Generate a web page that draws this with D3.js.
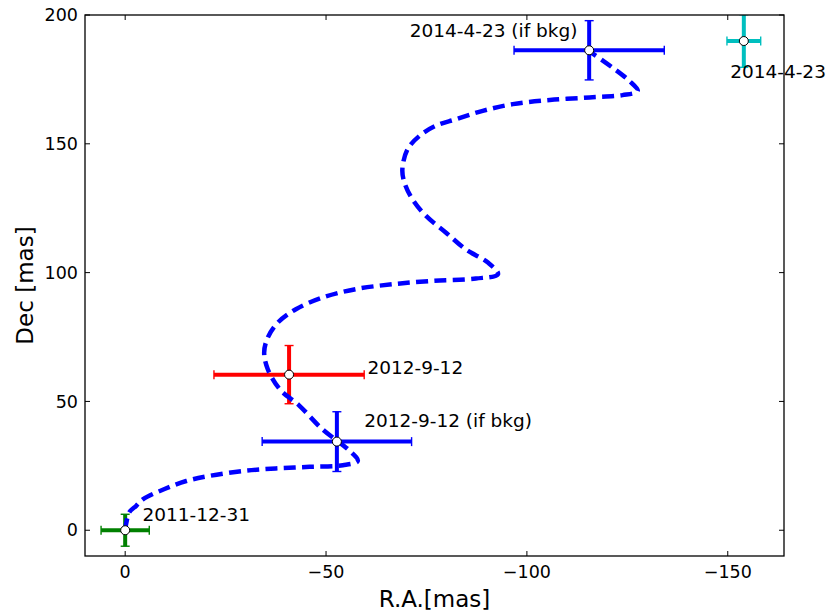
<!DOCTYPE html>
<html>
<head>
<meta charset="utf-8">
<script src="https://cdn.jsdelivr.net/npm/d3@7"></script>
<style>
  html, body { margin: 0; padding: 0; background: #fff; }
  svg { display: block; font-family: "DejaVu Sans", sans-serif; }
</style>
</head>
<body>
<svg id="chart" width="827" height="614"></svg>
<script>
// ---- data ----
const xDomain = [10, -164];
const yDomain = [-10, 200];
const xTicks = [0, -50, -100, -150];
const yTicks = [0, 50, 100, 150, 200];

// model track (R.A., Dec) in mas
const trackRA  = [0, -1, -2.7, -4.4, -9.8, -15.2, -21, -29.3, -37.5, -45.9, -54.2, -57.9, -55.9, -49.1, -43.4, -38.5, -35.5, -34.6, -35.5, -38, -42.5, -49.1, -57.4, -66.6, -76.5, -87.3, -92.8, -90.3, -84.8, -79.8, -74.9, -71.5, -69.5, -69, -70.3, -73.2, -77.3, -82.3, -89, -96.5, -105.7, -115.6, -123.8, -127.6, -125.5, -121.3, -115.5];
const trackDec = [0, 6.9, 9.4, 12, 16, 19.1, 21.1, 23, 24, 24.6, 25.2, 26.9, 30.8, 39.2, 48.3, 54.7, 62.5, 69, 74.8, 80.6, 85.8, 90.3, 93.6, 95.5, 96.8, 97.7, 99.4, 103.9, 109, 115.6, 122, 128.5, 135, 140.1, 147.9, 153, 157, 159.5, 162.8, 165.4, 167, 168, 168.9, 170.5, 174.4, 179.6, 186];

// measured positions
const ptLabels = ["2011-12-31", "2012-9-12 (if bkg)", "2012-9-12", "2014-4-23 (if bkg)", "2014-4-23"];
const ptRA     = [0, -52.7, -40.8, -115.5, -154];
const ptDec    = [0, 34.4, 60.4, 186.3, 189.9];
const ptErrRA  = [6, 18.6, 18.7, 18.7, 4.2];
const ptErrDec = [6.2, 11.6, 11.3, 11.5, 10.2];
const ptColors = ["#008000", "#0000ff", "#ff0000", "#0000ff", "#00bfbf"];

// label anchor positions (data coords) and alignment
const lblRA     = [-4.3, -59.5, -60.3, -112.6, -150.6];
const lblDec    = [3.6, 39.9, 60.6, 191.3, 175.7];
const lblAnchor = ["start", "start", "start", "end", "start"];

// ---- layout ----
const svg = d3.select("#chart");
const L = 85, R = 784, T = 15, B = 556;
const x = d3.scaleLinear().domain(xDomain).range([L, R]);
const y = d3.scaleLinear().domain(yDomain).range([B, T]);

svg.append("defs").append("clipPath").attr("id", "clip")
  .append("rect").attr("x", L).attr("y", T).attr("width", R - L).attr("height", B - T);

const plot = svg.append("g").attr("clip-path", "url(#clip)");

const pts = ptLabels.map((d, i) => ({
  label: d, ra: ptRA[i], dec: ptDec[i], era: ptErrRA[i], edec: ptErrDec[i], color: ptColors[i]
}));

// error bars
const eb = plot.selectAll("g.eb").data(pts).join("g").attr("class", "eb");
eb.append("line")
  .attr("x1", d => x(d.ra - d.era)).attr("x2", d => x(d.ra + d.era))
  .attr("y1", d => y(d.dec)).attr("y2", d => y(d.dec))
  .attr("stroke", d => d.color).attr("stroke-width", 4);
eb.append("line")
  .attr("x1", d => x(d.ra)).attr("x2", d => x(d.ra))
  .attr("y1", d => y(d.dec - d.edec)).attr("y2", d => y(d.dec + d.edec))
  .attr("stroke", d => d.color).attr("stroke-width", 4);
const capH = 4.5;
[-1, 1].forEach(s => {
  eb.append("line")
    .attr("x1", d => x(d.ra + s * d.era)).attr("x2", d => x(d.ra + s * d.era))
    .attr("y1", d => y(d.dec) - capH).attr("y2", d => y(d.dec) + capH)
    .attr("stroke", d => d.color).attr("stroke-width", 1.4);
  eb.append("line")
    .attr("x1", d => x(d.ra) - capH).attr("x2", d => x(d.ra) + capH)
    .attr("y1", d => y(d.dec + s * d.edec)).attr("y2", d => y(d.dec + s * d.edec))
    .attr("stroke", d => d.color).attr("stroke-width", 1.4);
});

// model track
const track = trackRA.map((r, i) => [r, trackDec[i]]);
const line = d3.line().x(d => x(d[0])).y(d => y(d[1])).curve(d3.curveCatmullRom.alpha(0.5));
plot.append("path").datum(track)
  .attr("d", line)
  .attr("fill", "none")
  .attr("stroke", "#0000ff")
  .attr("stroke-width", 4.5)
  .attr("stroke-dasharray", "12,6.3");

// markers
plot.selectAll("circle.m").data(pts).join("circle").attr("class", "m")
  .attr("cx", d => x(d.ra)).attr("cy", d => y(d.dec)).attr("r", 4.5)
  .attr("fill", "#fff").attr("stroke", "#000").attr("stroke-width", 1);

// labels
svg.selectAll("text.lbl").data(ptLabels).join("text").attr("class", "lbl")
  .attr("x", (d, i) => x(lblRA[i])).attr("y", (d, i) => y(lblDec[i]))
  .attr("text-anchor", (d, i) => lblAnchor[i])
  .attr("font-size", 18.5).attr("fill", "#000")
  .text(d => d);

// axes frame and ticks
const fmt = d3.format("");
const tickLen = 5;
const axG = svg.append("g");
xTicks.forEach(t => {
  axG.append("line").attr("x1", x(t)).attr("x2", x(t)).attr("y1", B).attr("y2", B - tickLen).attr("stroke", "#000").attr("stroke-width", 1);
  axG.append("line").attr("x1", x(t)).attr("x2", x(t)).attr("y1", T).attr("y2", T + tickLen).attr("stroke", "#000").attr("stroke-width", 1);
});
axG.selectAll("text.xt").data(xTicks).join("text").attr("class", "xt")
  .attr("x", d => x(d)).attr("y", B + 10).attr("dy", "0.71em")
  .attr("text-anchor", "middle").attr("font-size", 17.5).text(d => fmt(d));
yTicks.forEach(t => {
  axG.append("line").attr("x1", L).attr("x2", L + tickLen).attr("y1", y(t)).attr("y2", y(t)).attr("stroke", "#000").attr("stroke-width", 1);
  axG.append("line").attr("x1", R).attr("x2", R - tickLen).attr("y1", y(t)).attr("y2", y(t)).attr("stroke", "#000").attr("stroke-width", 1);
});
axG.selectAll("text.yt").data(yTicks).join("text").attr("class", "yt")
  .attr("x", L - 7).attr("y", d => y(d)).attr("dy", "0.35em")
  .attr("text-anchor", "end").attr("font-size", 17.5).text(d => fmt(d));

axG.append("rect").attr("x", L).attr("y", T).attr("width", R - L).attr("height", B - T)
  .attr("fill", "none").attr("stroke", "#000").attr("stroke-width", 1.3);

// axis titles
svg.append("text").attr("x", (L + R) / 2).attr("y", 607).attr("text-anchor", "middle")
  .attr("font-size", 23).text("R.A.[mas]");
svg.append("text").attr("transform", `translate(33,${(T + B) / 2}) rotate(-90)`)
  .attr("text-anchor", "middle").attr("font-size", 23).text("Dec [mas]");
</script>
</body>
</html>
